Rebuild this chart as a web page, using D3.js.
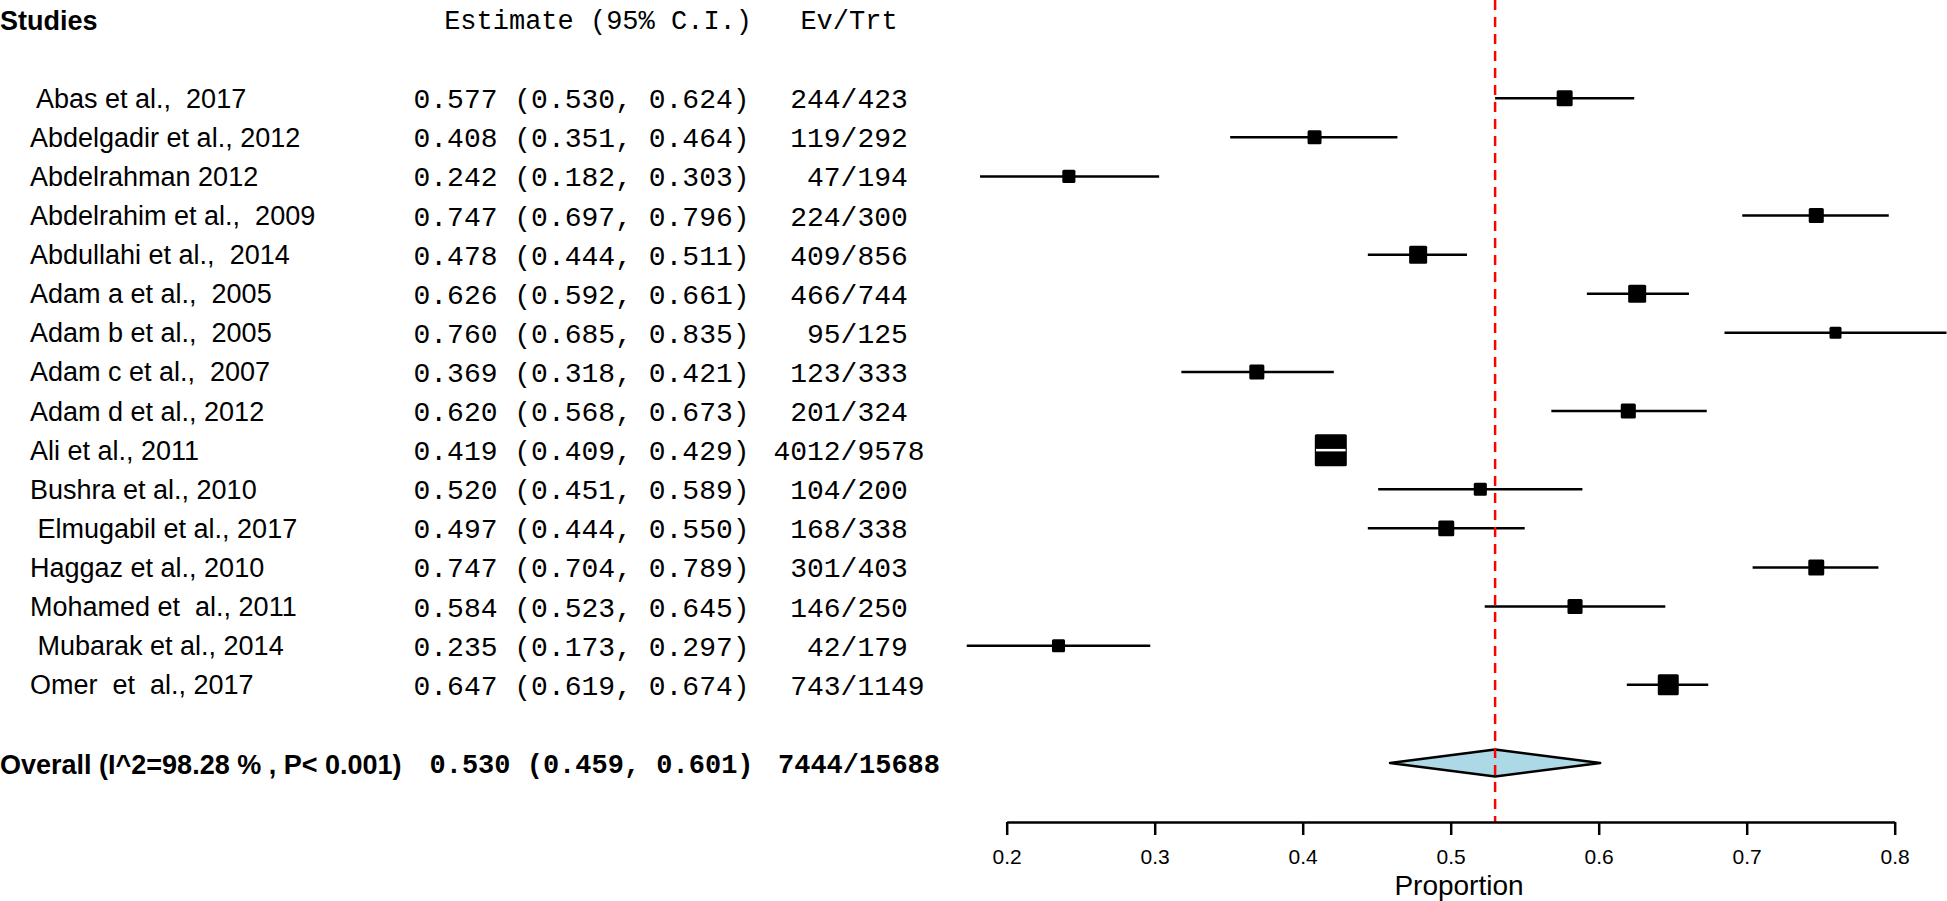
<!DOCTYPE html>
<html>
<head>
<meta charset="utf-8">
<script src="https://cdn.jsdelivr.net/npm/d3@7"></script>
<style>
	body { margin: 0; background: #fff; }
	text { white-space: pre; }
</style>
</head>
<body>
<div class="forest"></div>
<script>
	// study data
	var studies = [" Abas et al.,  2017", "Abdelgadir et al., 2012", "Abdelrahman 2012",
		"Abdelrahim et al.,  2009", "Abdullahi et al.,  2014", "Adam a et al.,  2005",
		"Adam b et al.,  2005", "Adam c et al.,  2007", "Adam d et al., 2012",
		"Ali et al., 2011", "Bushra et al., 2010", " Elmugabil et al., 2017",
		"Haggaz et al., 2010", "Mohamed et  al., 2011", " Mubarak et al., 2014",
		"Omer  et  al., 2017"];
	var est = [0.577, 0.408, 0.242, 0.747, 0.478, 0.626, 0.760, 0.369, 0.620, 0.419, 0.520, 0.497, 0.747, 0.584, 0.235, 0.647];
	var lower = [0.530, 0.351, 0.182, 0.697, 0.444, 0.592, 0.685, 0.318, 0.568, 0.409, 0.451, 0.444, 0.704, 0.523, 0.173, 0.619];
	var upper = [0.624, 0.464, 0.303, 0.796, 0.511, 0.661, 0.835, 0.421, 0.673, 0.429, 0.589, 0.550, 0.789, 0.645, 0.297, 0.674];
	var events = [244, 119, 47, 224, 409, 466, 95, 123, 201, 4012, 104, 168, 301, 146, 42, 743];
	var totals = [423, 292, 194, 300, 856, 744, 125, 333, 324, 9578, 200, 338, 403, 250, 179, 1149];
	// relative weights (%)
	var weights = [5.5, 4.2, 3.7, 4.9, 7.0, 7.0, 3.1, 4.9, 4.9, 22.1, 3.7, 5.5, 5.5, 4.9, 3.7, 9.5];

	var overallEst = 0.530, overallLower = 0.459, overallUpper = 0.601;
	var overallEvents = 7444, overallTotal = 15688;
	var overallLabel = "Overall (I^2=98.28 % , P< 0.001)";

	var ticks = [0.2, 0.3, 0.4, 0.5, 0.6, 0.7, 0.8];

	var width = 1947,
		height = 901;

	var sans = "'Liberation Sans', Arial, Helvetica, sans-serif",
		mono = "'Liberation Mono', 'Courier New', monospace";

	var svg = d3.select(".forest").append("svg")
		.attr("width", width)
		.attr("height", height);

	// row 0 = header, studies from row 2, overall at row 19
	var y = d3.scaleLinear().domain([0, 19]).range([20, 763]);
	var x = d3.scaleLinear().domain([0.2, 0.8]).range([1006.7, 1894.7]);
	var box = d3.scaleSqrt().domain([0, d3.max(weights)]).range([0, 32]);

	var f3 = d3.format(".3f");
	var axisY = 822;

	function pad(s, n) {
		while (s.length < n) s = " " + s;
		return s;
	}

	// headers
	svg.append("text")
		.attr("x", 0).attr("y", y(0) + 10)
		.style("font-family", sans).style("font-weight", "bold").style("font-size", "27px")
		.text("Studies");

	svg.append("text")
		.attr("x", 752).attr("y", y(0) + 9)
		.attr("text-anchor", "end")
		.style("font-family", mono).style("font-size", "27px")
		.text("Estimate (95% C.I.)");

	svg.append("text")
		.attr("x", 849).attr("y", y(0) + 9)
		.attr("text-anchor", "middle")
		.style("font-family", mono).style("font-size", "27px")
		.text("Ev/Trt");

	// study rows
	var rows = svg.selectAll(".row")
		.data(studies)
		.enter().append("g")
		.attr("class", "row")
		.attr("transform", function(d, i) { return "translate(0," + y(i + 2) + ")"; });

	rows.append("text")
		.attr("x", 30).attr("y", 9.5)
		.style("font-family", sans).style("font-size", "27px")
		.text(function(d) { return d; });

	rows.append("text")
		.attr("x", 413.5).attr("y", 10)
		.style("font-family", mono).style("font-size", "28px")
		.text(function(d, i) { return f3(est[i]) + " (" + f3(lower[i]) + ", " + f3(upper[i]) + ")"; });

	rows.append("text")
		.attr("x", 849).attr("y", 10)
		.attr("text-anchor", "middle")
		.style("font-family", mono).style("font-size", "28px")
		.text(function(d, i) {
			var s = events[i] + "/" + totals[i];
			return pad(s, s.length % 2 == 0 ? s.length + 1 : s.length);
		});

	// confidence intervals
	rows.append("line")
		.attr("x1", function(d, i) { return x(lower[i]); })
		.attr("x2", function(d, i) { return Math.min(x(upper[i]), width); })
		.attr("stroke", "#000")
		.attr("stroke-width", 2.5);

	rows.append("rect")
		.attr("x", function(d, i) { return x(est[i]) - box(weights[i]) / 2; })
		.attr("y", function(d, i) { return -box(weights[i]) / 2; })
		.attr("width", function(d, i) { return box(weights[i]); })
		.attr("height", function(d, i) { return box(weights[i]); })
		.attr("rx", 1.5)
		.attr("fill", "#000");

	// CI drawn white where it sits inside the box
	rows.filter(function(d, i) { return x(upper[i]) - x(lower[i]) < box(weights[i]); })
		.append("line")
		.attr("x1", function(d) { return x(lower[studies.indexOf(d)]); })
		.attr("x2", function(d) { return x(upper[studies.indexOf(d)]); })
		.attr("stroke", "#fff")
		.attr("stroke-width", 2.5);

	// overall row
	var yo = y(19);
	svg.append("text")
		.attr("x", 0).attr("y", yo + 10.5)
		.style("font-family", sans).style("font-weight", "bold").style("font-size", "27px")
		.text(overallLabel);

	svg.append("text")
		.attr("x", 429.5).attr("y", yo + 10)
		.style("font-family", mono).style("font-weight", "bold").style("font-size", "27px")
		.text(f3(overallEst) + " (" + f3(overallLower) + ", " + f3(overallUpper) + ")");

	svg.append("text")
		.attr("x", 859).attr("y", yo + 10)
		.attr("text-anchor", "middle")
		.style("font-family", mono).style("font-weight", "bold").style("font-size", "27px")
		.text(overallEvents + "/" + overallTotal);

	svg.append("path")
		.attr("d", "M" + x(overallLower) + "," + yo +
			"L" + x(overallEst) + "," + (yo - 13.5) +
			"L" + x(overallUpper) + "," + yo +
			"L" + x(overallEst) + "," + (yo + 13.5) + "Z")
		.attr("fill", "#add8e6")
		.attr("stroke", "#000")
		.attr("stroke-width", 2.5)
		.attr("stroke-linejoin", "round");

	// reference line at the pooled estimate
	svg.append("line")
		.attr("x1", x(overallEst)).attr("x2", x(overallEst))
		.attr("y1", 0).attr("y2", axisY)
		.attr("stroke", "#ff0000")
		.attr("stroke-width", 2.5)
		.attr("stroke-dasharray", "10,7");

	// x axis
	var axis = svg.append("g")
		.attr("transform", "translate(0," + axisY + ")")
		.call(d3.axisBottom(x).tickValues(ticks).tickSize(13).tickPadding(14).tickSizeOuter(0)
			.tickFormat(d3.format(".1f")));

	axis.select(".domain").attr("stroke-width", 2.5);
	axis.selectAll(".tick line").attr("stroke-width", 2.5);
	axis.selectAll(".tick text")
		.style("font-family", sans).style("font-size", "21px");

	svg.append("text")
		.attr("x", 1459).attr("y", 895)
		.attr("text-anchor", "middle")
		.style("font-family", sans).style("font-size", "28px")
		.text("Proportion");
</script>
</body>
</html>
